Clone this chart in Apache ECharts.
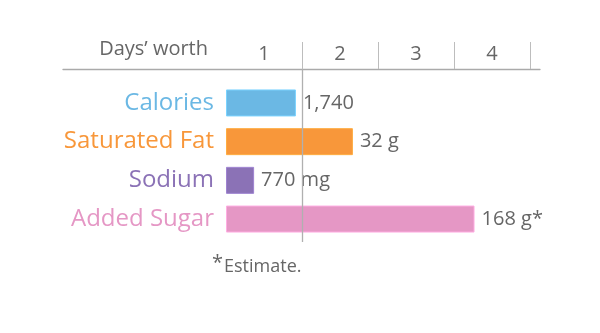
<!DOCTYPE html>
<html><head><meta charset="utf-8">
<script src="https://cdn.jsdelivr.net/npm/echarts@6/dist/echarts.min.js"></script>
<style>html,body{margin:0;padding:0;background:#fff}#c{width:600px;height:333px}</style>
</head><body><div id="c"></div>
<script>
const categories = ['Calories', 'Saturated Fat', 'Sodium', 'Added Sugar'];
const daysWorth = [0.92, 1.67, 0.37, 3.27];
const valueLabels = ['1,740', '32 g', '770 mg', '168 g*'];
const colors = ['#6bb8e4', '#f8973a', '#8b72b6', '#e597c5'];
const tickLabels = ['1', '2', '3', '4'];
const tickLabelPos = [0.5, 1.5, 2.5, 3.5];
const tickPos = [1, 2, 3, 4];
const headerTitle = 'Days\u2019 worth';
const footnote = 'Estimate.';

const FONT = 'Open Sans';
const chart = echarts.init(document.getElementById('c'));
const xMax = 314 / 76;
const xMin0 = -163 / 76;
chart.setOption({
  animation: false,
  textStyle: { fontFamily: FONT },
  grid: [
    { left: 63, right: 60, top: 69, bottom: 91 },
    { left: 226, right: 60, top: 83.6, height: 154.8 }
  ],
  xAxis: [
    {
      gridIndex: 0, type: 'value', position: 'top', min: xMin0, max: xMax,
      axisLine: { show: true, onZero: false, lineStyle: { color: '#aaaaaa', width: 1.3 } },
      axisTick: { show: true, customValues: tickPos, length: 27, inside: false, lineStyle: { color: '#bdbdbd', width: 1 } },
      axisLabel: { show: true, customValues: tickLabelPos, margin: 5, fontSize: 20, color: '#666',
        fontFamily: FONT, formatter: v => tickLabels[tickLabelPos.indexOf(v)] ?? '' },
      splitLine: { show: false }
    },
    {
      gridIndex: 1, type: 'value', min: 0, max: xMax, show: false
    }
  ],
  yAxis: [
    { gridIndex: 0, type: 'value', min: 0, max: 1, show: false },
    {
      gridIndex: 1, type: 'category', inverse: true,
      data: categories.map((c, i) => ({ value: c, textStyle: { color: colors[i] } })),
      axisLine: { show: false }, axisTick: { show: false },
      axisLabel: { fontSize: 24, margin: 12, fontFamily: FONT }
    }
  ],
  series: [
    {
      type: 'line', xAxisIndex: 0, yAxisIndex: 0, data: [], silent: true,
      markLine: {
        symbol: 'none', silent: true, label: { show: false },
        lineStyle: { color: '#b0b0b0', width: 1.3, type: 'solid' },
        data: [{ xAxis: 1 }]
      }
    },
    {
      type: 'bar', xAxisIndex: 1, yAxisIndex: 1, barWidth: 27,
      data: daysWorth.map((v, i) => ({
        value: v,
        itemStyle: { color: colors[i], borderColor: echarts.color.lift(colors[i], -0.15), borderWidth: 1 }
      })),
      label: {
        show: true, position: 'right', distance: 7, fontSize: 20, color: '#666', fontFamily: FONT,
        formatter: p => valueLabels[p.dataIndex]
      },
      z: 1
    }
  ],
  graphic: [
    { type: 'text', right: 600 - 208, top: 39,
      style: { text: headerTitle, fill: '#666', font: '20px ' + FONT } },
    { type: 'text', left: 212, top: 253,
      style: { text: '{s|*}{t|' + footnote + '}', rich: {
        s: { fontSize: 20, fill: '#666', fontFamily: FONT, padding: [0, 1, 8, 0] },
        t: { fontSize: 18, fill: '#666', fontFamily: FONT } } } }
  ]
});
</script></body></html>
